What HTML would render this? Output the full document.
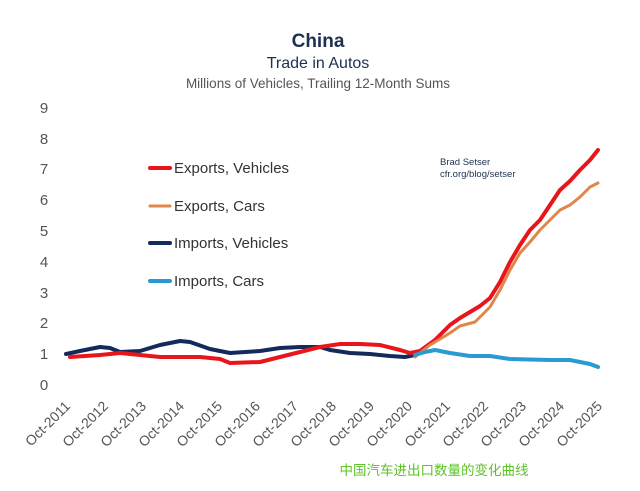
<!DOCTYPE html>
<html><head><meta charset="utf-8"><style>
body{margin:0;background:#fff;width:640px;height:486px;overflow:hidden}
text{font-family:"Liberation Sans",sans-serif}
</style></head><body>
<svg width="640" height="486" xmlns="http://www.w3.org/2000/svg">
<text x="318" y="47" text-anchor="middle" font-size="19" font-weight="bold" fill="#1e3050">China</text>
<text x="318" y="68" text-anchor="middle" font-size="16" fill="#1e3050">Trade in Autos</text>
<text x="318" y="88" text-anchor="middle" font-size="13.5" fill="#555">Millions of Vehicles, Trailing 12-Month Sums</text>
<g font-size="15" fill="#555" text-anchor="middle">
<text x="44" y="113">9</text><text x="44" y="144">8</text><text x="44" y="174">7</text><text x="44" y="205">6</text><text x="44" y="236">5</text><text x="44" y="267">4</text><text x="44" y="298">3</text><text x="44" y="328">2</text><text x="44" y="359">1</text><text x="44" y="390">0</text>
</g>
<g font-size="14" fill="#555" text-anchor="end">
<text transform="translate(71,407) rotate(-45)">Oct-2011</text>
<text transform="translate(109,407) rotate(-45)">Oct-2012</text>
<text transform="translate(147,407) rotate(-45)">Oct-2013</text>
<text transform="translate(185,407) rotate(-45)">Oct-2014</text>
<text transform="translate(223,407) rotate(-45)">Oct-2015</text>
<text transform="translate(261,407) rotate(-45)">Oct-2016</text>
<text transform="translate(299,407) rotate(-45)">Oct-2017</text>
<text transform="translate(337,407) rotate(-45)">Oct-2018</text>
<text transform="translate(375,407) rotate(-45)">Oct-2019</text>
<text transform="translate(413,407) rotate(-45)">Oct-2020</text>
<text transform="translate(451,407) rotate(-45)">Oct-2021</text>
<text transform="translate(489,407) rotate(-45)">Oct-2022</text>
<text transform="translate(527,407) rotate(-45)">Oct-2023</text>
<text transform="translate(565,407) rotate(-45)">Oct-2024</text>
<text transform="translate(603,407) rotate(-45)">Oct-2025</text>
</g>
<text x="440" y="165" font-size="9.5" fill="#1e3050">Brad Setser</text>
<text x="440" y="177" font-size="9.5" fill="#1e3050">cfr.org/blog/setser</text>
<g stroke-linecap="round" stroke-width="4" fill="none">
<line x1="150" y1="168" x2="170" y2="168" stroke="#e8161b"/>
<line x1="150" y1="206" x2="170" y2="206" stroke="#e0864a" stroke-width="3"/>
<line x1="150" y1="243" x2="170" y2="243" stroke="#142a5c"/>
<line x1="150" y1="281" x2="170" y2="281" stroke="#2a9ad2"/>
</g>
<g font-size="15" fill="#333">
<text x="174" y="173">Exports, Vehicles</text>
<text x="174" y="211">Exports, Cars</text>
<text x="174" y="248">Imports, Vehicles</text>
<text x="174" y="286">Imports, Cars</text>
</g>
<g fill="none" stroke-linejoin="round" stroke-linecap="round">
<polyline stroke="#142a5c" stroke-width="4" points="66,354 80,351 100,347 110,348 120,352 140,351 160,345 180,341 190,342 210,349 230,353 260,351 280,348 300,347 320,347 330,350 350,353 370,354 390,356 405,357 415,355"/>
<polyline stroke="#e8161b" stroke-width="4" points="70,357 100,355 120,353 140,355 160,357 200,357 220,359 230,363 260,362 280,357 300,352 320,347 340,344 360,344 380,345 400,350 410,353 420,351 435,340 450,325 460,318 470,312 480,306 490,298 500,282 510,262 520,245 530,230 540,220 550,205 560,190 570,181 580,170 590,160 598,150"/>
<polyline stroke="#e0864a" stroke-width="3" points="415,357 430,345 450,333 460,326 475,322 490,307 500,290 510,270 520,253 530,242 540,230 550,220 560,210 570,205 580,197 590,187 598,183"/>
<polyline stroke="#2a9ad2" stroke-width="4" points="415,355 425,352 435,350 450,353 470,356 490,356 510,359 550,360 570,360 590,364 598,367"/>
</g>
<text x="434" y="475" text-anchor="middle" font-size="13.5" fill="#5ec229" style="font-family:'Liberation Sans','Noto Sans CJK SC',sans-serif">中国汽车进出口数量的变化曲线</text>
</svg>
</body></html>
